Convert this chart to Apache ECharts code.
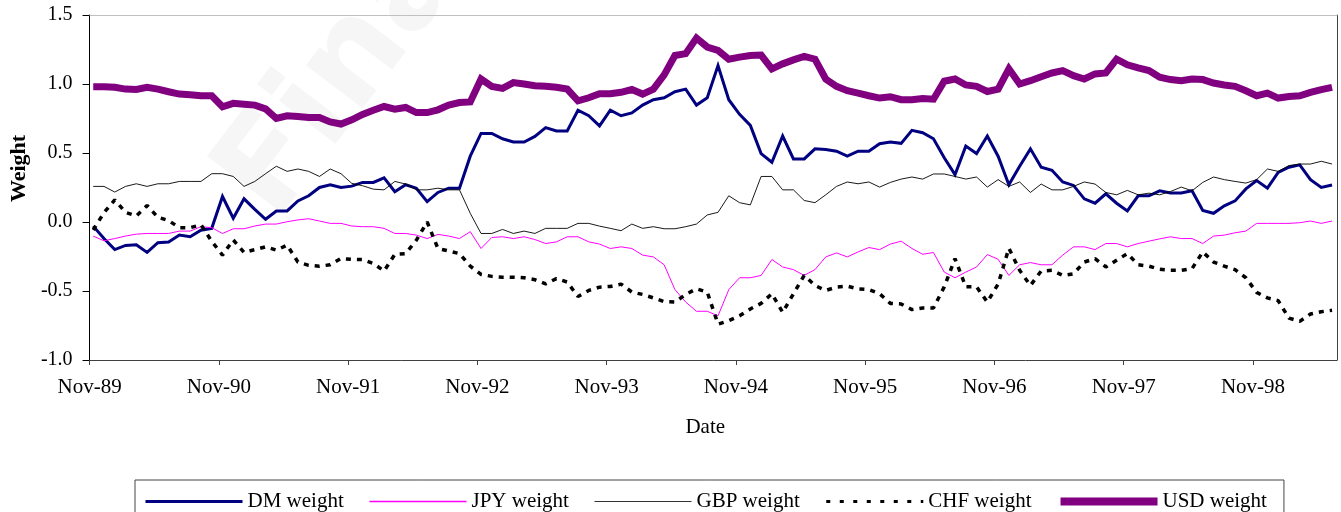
<!DOCTYPE html>
<html>
<head>
<meta charset="utf-8">
<script src="https://cdn.jsdelivr.net/npm/echarts@6/dist/echarts.min.js"></script>
<style>
  html, body { margin: 0; padding: 0; background: #fff; }
  #chart { width: 1341px; height: 512px; }
</style>
</head>
<body>
<div id="chart"></div>
<script>
// monthly weights, Nov-89 .. Jun-99 (one value per month)
var dmWeight = [
  -0.03, -0.12, -0.20, -0.17, -0.165, -0.22, -0.15, -0.145, -0.095, -0.107, -0.06, -0.046,
  0.185, 0.027, 0.168, 0.092, 0.02, 0.08, 0.08, 0.153, 0.19, 0.25, 0.27, 0.25,
  0.26, 0.287, 0.287, 0.32, 0.22, 0.27, 0.245, 0.148, 0.214, 0.245, 0.245, 0.477,
  0.642, 0.642, 0.603, 0.58, 0.58, 0.62, 0.684, 0.66, 0.66, 0.81, 0.77, 0.696,
  0.81, 0.77, 0.79, 0.847, 0.886, 0.90, 0.944, 0.963, 0.847, 0.90, 1.134, 0.886,
  0.78, 0.70, 0.496, 0.433, 0.623, 0.457, 0.457, 0.53, 0.525, 0.513, 0.477, 0.513,
  0.513, 0.567, 0.58, 0.57, 0.664, 0.647, 0.603, 0.465, 0.343, 0.55, 0.496, 0.623,
  0.477, 0.27, 0.404, 0.53, 0.397, 0.375, 0.29, 0.265, 0.168, 0.136, 0.204, 0.136,
  0.08, 0.19, 0.19, 0.226, 0.21, 0.21, 0.226, 0.083, 0.063, 0.117, 0.153, 0.24,
  0.30, 0.245, 0.36, 0.397, 0.414, 0.307, 0.25, 0.268
];
var jpyWeight = [
  -0.102, -0.136, -0.12, -0.102, -0.088, -0.083, -0.083, -0.083, -0.066, -0.066, -0.034, -0.041,
  -0.083, -0.049, -0.049, -0.029, -0.015, -0.015, 0.002, 0.015, 0.024, 0.007, -0.01, -0.01,
  -0.029, -0.034, -0.034, -0.046, -0.083, -0.083, -0.095, -0.12, -0.09, -0.102, -0.12, -0.07,
  -0.192, -0.112, -0.107, -0.12, -0.107, -0.127, -0.156, -0.144, -0.107, -0.107, -0.144, -0.16,
  -0.192, -0.18, -0.192, -0.24, -0.253, -0.31, -0.49, -0.58, -0.647, -0.647, -0.68, -0.49,
  -0.404, -0.404, -0.387, -0.272, -0.326, -0.345, -0.387, -0.345, -0.253, -0.224, -0.253, -0.217,
  -0.185, -0.2, -0.16, -0.139, -0.192, -0.234, -0.221, -0.363, -0.404, -0.363, -0.326, -0.236,
  -0.27, -0.387, -0.31, -0.294, -0.31, -0.31, -0.24, -0.18, -0.18, -0.2, -0.156, -0.156,
  -0.18, -0.156, -0.139, -0.122, -0.107, -0.12, -0.12, -0.156, -0.102, -0.095, -0.078, -0.066,
  -0.01, -0.01, -0.01, -0.01, -0.005, 0.007, -0.01, 0.007
];
var gbpWeight = [
  0.258, 0.258, 0.217, 0.258, 0.277, 0.258, 0.277, 0.277, 0.294, 0.294, 0.294, 0.35,
  0.35, 0.33, 0.258, 0.294, 0.35, 0.404, 0.367, 0.384, 0.367, 0.33, 0.384, 0.35,
  0.28, 0.263, 0.238, 0.233, 0.294, 0.275, 0.233, 0.233, 0.245, 0.233, 0.233, 0.063,
  -0.083, -0.083, -0.054, -0.083, -0.066, -0.083, -0.046, -0.046, -0.046, -0.01, -0.01, -0.03,
  -0.046, -0.063, -0.015, -0.046, -0.034, -0.049, -0.049, -0.034, -0.015, 0.051, 0.07, 0.19,
  0.14, 0.124, 0.33, 0.33, 0.233, 0.233, 0.156, 0.14, 0.197, 0.258, 0.29, 0.277,
  0.29, 0.253, 0.287, 0.311, 0.326, 0.311, 0.348, 0.348, 0.33, 0.311, 0.326, 0.253,
  0.307, 0.258, 0.29, 0.214, 0.275, 0.233, 0.233, 0.258, 0.29, 0.275, 0.214, 0.197,
  0.229, 0.197, 0.209, 0.197, 0.221, 0.253, 0.226, 0.287, 0.326, 0.307, 0.294, 0.282,
  0.307, 0.384, 0.367, 0.409, 0.42, 0.42, 0.44, 0.42
];
var chfWeight = [
  -0.058, 0.068, 0.16, 0.07, 0.044, 0.12, 0.034, 0.01, -0.041, -0.041, -0.02, -0.14,
  -0.24, -0.13, -0.22, -0.20, -0.18, -0.204, -0.168, -0.29, -0.314, -0.32, -0.31, -0.265,
  -0.27, -0.272, -0.30, -0.355, -0.234, -0.229, -0.131, 0.0, -0.192, -0.21, -0.229, -0.32,
  -0.38, -0.394, -0.40, -0.40, -0.404, -0.418, -0.448, -0.41, -0.435, -0.54, -0.496, -0.472,
  -0.467, -0.45, -0.508, -0.525, -0.55, -0.577, -0.58, -0.525, -0.484, -0.508, -0.74, -0.715,
  -0.68, -0.63, -0.59, -0.52, -0.655, -0.52, -0.387, -0.46, -0.496, -0.472, -0.465, -0.484,
  -0.49, -0.52, -0.59, -0.594, -0.635, -0.623, -0.623, -0.47, -0.265, -0.47, -0.47, -0.58,
  -0.45, -0.19, -0.35, -0.46, -0.355, -0.35, -0.387, -0.375, -0.29, -0.265, -0.326, -0.277,
  -0.229, -0.31, -0.32, -0.343, -0.35, -0.35, -0.338, -0.217, -0.29, -0.32, -0.345, -0.404,
  -0.51, -0.55, -0.57, -0.696, -0.72, -0.667, -0.65, -0.64
];
var usdWeight = [
  0.98, 0.98, 0.976, 0.963, 0.96, 0.976, 0.963, 0.944, 0.927, 0.922, 0.915, 0.915,
  0.835, 0.86, 0.854, 0.847, 0.82, 0.75, 0.77, 0.765, 0.757, 0.757, 0.725, 0.71,
  0.74, 0.78, 0.81, 0.837, 0.818, 0.83, 0.793, 0.793, 0.813, 0.847, 0.866, 0.87,
  1.036, 0.983, 0.968, 1.01, 1.0, 0.988, 0.983, 0.976, 0.963, 0.878, 0.9, 0.93,
  0.93, 0.94, 0.96, 0.927, 0.963, 1.066, 1.207, 1.22, 1.333, 1.268, 1.243, 1.18,
  1.195, 1.207, 1.21, 1.11, 1.146, 1.175, 1.2, 1.18, 1.036, 0.983, 0.951, 0.934,
  0.915, 0.898, 0.908, 0.886, 0.886, 0.895, 0.89, 1.02, 1.036, 0.993, 0.983, 0.946,
  0.963, 1.11, 1.0, 1.024, 1.053, 1.08, 1.097, 1.06, 1.036, 1.073, 1.08, 1.18,
  1.139, 1.117, 1.097, 1.049, 1.032, 1.024, 1.036, 1.032, 1.007, 0.993, 0.983, 0.951,
  0.915, 0.934, 0.898, 0.91, 0.915, 0.939, 0.959, 0.976
];
var tickLabels = ["Nov-89", "Nov-90", "Nov-91", "Nov-92", "Nov-93", "Nov-94", "Nov-95", "Nov-96", "Nov-97", "Nov-98"];
var seriesNames = ["DM weight", "JPY weight", "GBP weight", "CHF weight", "USD weight"];

var dayOffset = 0.34; // observations fall ~10 days after the month tick
var tickPos = tickLabels.map(function (l, i) { return i * 12; });
var serif = "'Liberation Serif', 'Times New Roman', serif";

function pts(arr) {
  return arr.map(function (v, i) { return [i + dayOffset, v]; });
}

// hide the little symbol that the legend puts on each line sample
var noDot = { opacity: 0, borderWidth: 0 };

var myChart = echarts.init(document.getElementById("chart"));
myChart.setOption({
  animation: false,
  backgroundColor: "#fff",
  textStyle: { fontFamily: serif },
  graphic: [
    {
      type: "text",
      z: -10,
      x: 300,
      y: 242,
      rotation: 0.92,
      silent: true,
      style: {
        text: "Fina",
        font: "bold 130px 'DejaVu Sans'",
        fill: "#f6f6f6",
        textVerticalAlign: "bottom"
      }
    }
  ],
  grid: { left: 89, right: 4, top: 15, bottom: 152, containLabel: false },
  legend: {
    left: 135,
    top: 480,
    itemWidth: 97,
    itemHeight: 10,
    itemGap: 25,
    padding: [11, 17, 30, 9],
    borderColor: "#444",
    borderWidth: 1,
    textStyle: { fontFamily: serif, fontSize: 21, color: "#000" },
    data: [
      { name: "DM weight", lineStyle: { width: 3 }, itemStyle: noDot },
      { name: "JPY weight", lineStyle: { width: 1.5 }, itemStyle: noDot },
      { name: "GBP weight", lineStyle: { width: 1.2, color: "#333" }, itemStyle: noDot },
      { name: "CHF weight", lineStyle: { width: 3, type: [4, 9.5] }, itemStyle: noDot },
      { name: "USD weight", lineStyle: { width: 8 }, itemStyle: noDot }
    ]
  },
  xAxis: [
    {
      type: "value",
      min: 0,
      max: 115.8,
      axisLine: { onZero: false, lineStyle: { color: "#404040", width: 1 } },
      axisTick: { show: true, customValues: tickPos, length: 5, lineStyle: { color: "#404040" } },
      axisLabel: {
        customValues: tickPos,
        formatter: function (v) { return tickLabels[Math.round(v / 12)]; },
        fontFamily: serif,
        fontSize: 21,
        color: "#000",
        margin: 17
      },
      splitLine: { show: false },
      name: "Date",
      nameLocation: "middle",
      nameGap: 57,
      nameTextStyle: { fontFamily: serif, fontSize: 21, color: "#000", padding: [0, 16, 0, 0] }
    },
    {
      type: "value",
      position: "top",
      min: 0,
      max: 115.8,
      axisLine: { onZero: false, lineStyle: { color: "#c0c0c0", width: 1 } },
      axisTick: { show: false },
      axisLabel: { show: false },
      splitLine: { show: false }
    }
  ],
  yAxis: [
    {
      type: "value",
      min: -1,
      max: 1.5,
      interval: 0.5,
      axisLine: { show: true, onZero: false, lineStyle: { color: "#000", width: 1 } },
      axisTick: { show: true, length: 7, lineStyle: { color: "#000" } },
      axisLabel: {
        formatter: function (v) { return v.toFixed(1); },
        fontFamily: serif,
        fontSize: 20,
        color: "#000",
        margin: 17
      },
      splitLine: { show: false },
      name: "Weight",
      nameLocation: "middle",
      nameGap: 53,
      nameTextStyle: { fontFamily: serif, fontSize: 22, fontWeight: "bold", color: "#000", padding: [0, 0, 0, 38] }
    },
    {
      type: "value",
      position: "right",
      min: -1,
      max: 1.5,
      axisLine: { show: true, onZero: false, lineStyle: { color: "#404040", width: 1 } },
      axisTick: { show: false },
      axisLabel: { show: false },
      splitLine: { show: false }
    }
  ],
  series: [
    {
      name: seriesNames[0],
      type: "line",
      data: pts(dmWeight),
      symbol: "none",
      lineStyle: { color: "#000080", width: 3, join: "miter" },
      itemStyle: { color: "#000080" }
    },
    {
      name: seriesNames[1],
      type: "line",
      data: pts(jpyWeight),
      symbol: "none",
      lineStyle: { color: "#ff00ff", width: 1 },
      itemStyle: { color: "#ff00ff" }
    },
    {
      name: seriesNames[2],
      type: "line",
      data: pts(gbpWeight),
      symbol: "none",
      lineStyle: { color: "#000000", width: 0.9 },
      itemStyle: { color: "#000000" }
    },
    {
      name: seriesNames[3],
      type: "line",
      data: pts(chfWeight),
      symbol: "none",
      lineStyle: { color: "#000000", width: 3.5, type: [5, 6] },
      itemStyle: { color: "#000000" }
    },
    {
      name: seriesNames[4],
      type: "line",
      data: pts(usdWeight),
      symbol: "none",
      lineStyle: { color: "#800080", width: 7, join: "miter" },
      itemStyle: { color: "#800080" }
    }
  ]
});
</script>
</body>
</html>
